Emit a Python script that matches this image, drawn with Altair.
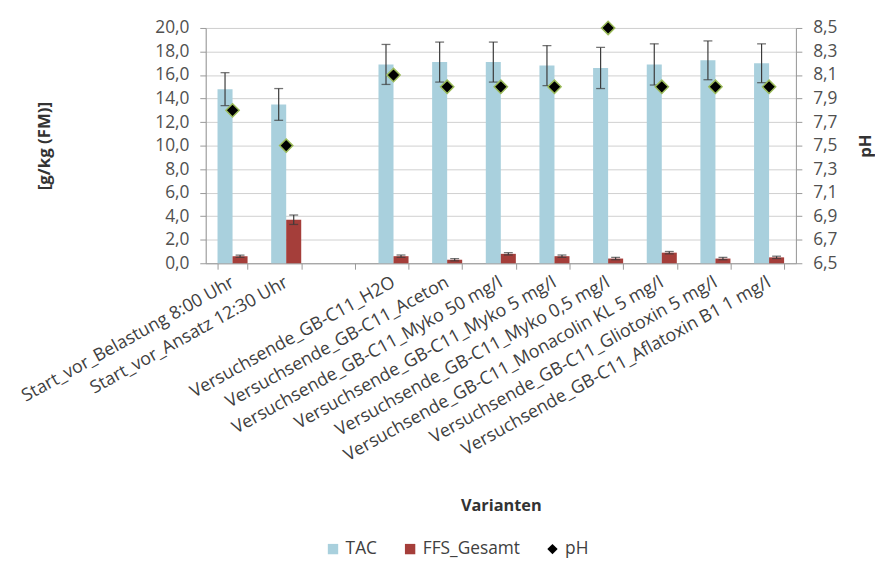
import altair as alt
import pandas as pd

categories = [
    "Start_vor_Belastung 8:00 Uhr",
    "Start_vor_Ansatz 12:30 Uhr",
    " ",
    "Versuchsende_GB-C11_H2O",
    "Versuchsende_GB-C11_Aceton",
    "Versuchsende_GB-C11_Myko 50 mg/l",
    "Versuchsende_GB-C11_Myko 5 mg/l",
    "Versuchsende_GB-C11_Myko 0,5 mg/l",
    "Versuchsende_GB-C11_Monacolin KL 5 mg/l",
    "Versuchsende_GB-C11_Gliotoxin 5 mg/l",
    "Versuchsende_GB-C11_Aflatoxin B1 1 mg/l",
]
tac = [14.8, 13.5, None, 16.9, 17.1, 17.1, 16.8, 16.6, 16.9, 17.25, 17.0]
tac_err = [1.4, 1.35, None, 1.7, 1.7, 1.7, 1.7, 1.75, 1.75, 1.65, 1.65]
ffs = [0.6, 3.7, None, 0.6, 0.3, 0.8, 0.6, 0.4, 0.9, 0.4, 0.5]
ffs_err = [0.1, 0.4, None, 0.1, 0.1, 0.1, 0.1, 0.1, 0.1, 0.1, 0.1]
ph = [7.8, 7.5, None, 8.1, 8.0, 8.0, 8.0, 8.5, 8.0, 8.0, 8.0]

left_ticks = [0, 2, 4, 6, 8, 10, 12, 14, 16, 18, 20]
right_ticks = [6.5, 6.7, 6.9, 7.1, 7.3, 7.5, 7.7, 7.9, 8.1, 8.3, 8.5]
series_domain = ["TAC", "FFS_Gesamt", "pH"]
series_colors = ["#A9D0DD", "#A53E3A", "#000000"]
series_shapes = ["square", "square", "diamond"]

rows = []
for i, c in enumerate(categories):
    if tac[i] is not None:
        rows.append({"cat": c, "series": "TAC", "value": tac[i],
                     "lo": tac[i] - tac_err[i], "hi": tac[i] + tac_err[i]})
    if ffs[i] is not None:
        rows.append({"cat": c, "series": "FFS_Gesamt", "value": ffs[i],
                     "lo": ffs[i] - ffs_err[i], "hi": ffs[i] + ffs_err[i]})
df = pd.DataFrame(rows)
ph_df = pd.DataFrame([{"cat": c, "series": "pH", "ph": p}
                      for c, p in zip(categories, ph) if p is not None])

FONT = "Open Sans"
LBL = "#404040"
FS = 17.5

xscale = alt.Scale(domain=categories, paddingInner=0.44, paddingOuter=0.22)
xaxis = alt.Axis(title="Varianten", labelAngle=-29, labelAlign="right",
                 labelBaseline="middle", labelPadding=12, labelFont=FONT,
                 labelFontSize=18, labelColor=LBL, tickBand="extent",
                 tickColor="#999999", tickSize=6, domainColor="#999999",
                 titleFont=FONT, titleFontSize=16.5, titleFontWeight="bold",
                 titleColor="#333333", titleY=245, titleBaseline="middle",
                 labelLimit=450, grid=False)
yaxis = alt.Axis(title="[g/kg (FM)]", values=left_ticks,
                 labelExpr="replace(format(datum.value, '.1f'), '.', ',')",
                 labelFont=FONT, labelFontSize=FS, labelColor="#505050",
                 labelPadding=11,
                 tickColor="#999999", tickSize=6, domainColor="#999999",
                 gridColor="#CFCFCF", titleFont=FONT, titleFontSize=17,
                 titleFontWeight="bold", titleColor="#333333", titleAngle=270,
                 titleX=-163, titleY=119, titleBaseline="middle")
y2axis = alt.Axis(orient="right", title="pH", values=right_ticks,
                  labelExpr="replace(format(datum.value, '.1f'), '.', ',')",
                  labelFont=FONT, labelFontSize=FS, labelColor="#505050",
                  labelPadding=11,
                  tickColor="#999999", tickSize=6, domainColor="#999999",
                  grid=False, titleFont=FONT, titleFontSize=17,
                  titleFontWeight="bold", titleColor="#333333", titleAngle=270,
                  titleX=70, titleY=119, titleBaseline="middle")

X = alt.X("cat:N", scale=xscale, axis=xaxis, sort=categories)
XO = alt.XOffset("series:N", sort=["TAC", "FFS_Gesamt"],
                 scale=alt.Scale(domain=["TAC", "FFS_Gesamt"], paddingInner=0, paddingOuter=0))
yscale = alt.Scale(domain=[0, 20], nice=False)

legend = alt.Legend(title=None, orient="none", direction="horizontal",
                    legendX=120, legendY=518, labelFont=FONT, labelFontSize=FS,
                    labelColor=LBL, symbolSize=110, columnPadding=24,
                    symbolStrokeWidth=0)
color = alt.Color("series:N", scale=alt.Scale(domain=series_domain, range=series_colors),
                  legend=legend)
shape = alt.Shape("series:N", scale=alt.Scale(domain=series_domain, range=series_shapes),
                  legend=legend)

bars = alt.Chart(df).mark_bar().encode(
    x=X, xOffset=XO, y=alt.Y("value:Q", scale=yscale, axis=yaxis), color=color)
rules = alt.Chart(df).mark_rule(color="#3A3A3A", strokeWidth=1.2).encode(
    x=X, xOffset=XO, y=alt.Y("lo:Q", scale=yscale, axis=yaxis), y2="hi:Q")
cap_hi = alt.Chart(df).mark_tick(color="#3A3A3A", size=9, thickness=1.3).encode(
    x=X, xOffset=XO, y=alt.Y("hi:Q", scale=yscale, axis=yaxis))
cap_lo = alt.Chart(df).mark_tick(color="#3A3A3A", size=9, thickness=1.3).encode(
    x=X, xOffset=XO, y=alt.Y("lo:Q", scale=yscale, axis=yaxis))

left = alt.layer(bars, rules, cap_hi, cap_lo)

points = alt.Chart(ph_df).mark_point(filled=True, size=180, stroke="#9BBB59",
                                     strokeWidth=1.5, opacity=1).encode(
    x=X,
    y=alt.Y("ph:Q", scale=alt.Scale(domain=[6.5, 8.5], nice=False), axis=y2axis),
    color=color, shape=shape)

chart = alt.layer(left, points).resolve_scale(y="independent").properties(
    width=597, height=238,
    autosize=alt.AutoSizeParams(type="none"),
    padding={"left": 200, "top": 17, "right": 80, "bottom": 300},
).configure_view(stroke=None).configure(background="white")

chart.save("out.html", embed_options={"renderer": "svg", "actions": False})
